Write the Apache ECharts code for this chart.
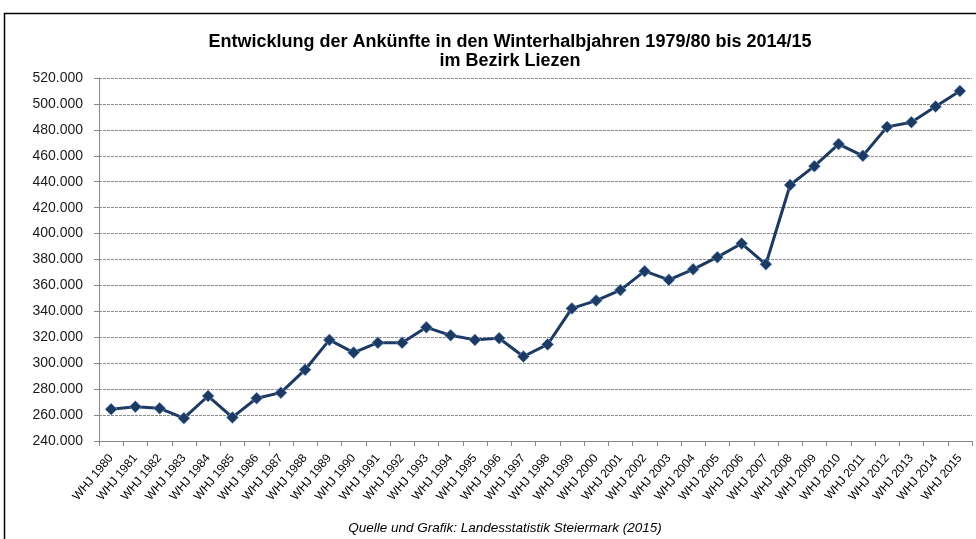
<!DOCTYPE html>
<html>
<head>
<meta charset="utf-8">
<script src="https://cdn.jsdelivr.net/npm/echarts@6/dist/echarts.min.js"></script>
<style>
  html, body { margin: 0; padding: 0; background: #fff; }
  #chart { width: 976px; height: 539px; }
</style>
</head>
<body>
<div id="chart"></div>
<script>
const years = ['WHJ 1980', 'WHJ 1981', 'WHJ 1982', 'WHJ 1983', 'WHJ 1984', 'WHJ 1985',
  'WHJ 1986', 'WHJ 1987', 'WHJ 1988', 'WHJ 1989', 'WHJ 1990', 'WHJ 1991', 'WHJ 1992',
  'WHJ 1993', 'WHJ 1994', 'WHJ 1995', 'WHJ 1996', 'WHJ 1997', 'WHJ 1998', 'WHJ 1999',
  'WHJ 2000', 'WHJ 2001', 'WHJ 2002', 'WHJ 2003', 'WHJ 2004', 'WHJ 2005', 'WHJ 2006',
  'WHJ 2007', 'WHJ 2008', 'WHJ 2009', 'WHJ 2010', 'WHJ 2011', 'WHJ 2012', 'WHJ 2013',
  'WHJ 2014', 'WHJ 2015'];

// Ankünfte je Winterhalbjahr
const arrivals = [264500, 266500, 265200, 257600, 274700, 258200,
  273000, 277300, 295000, 318000, 308200, 315800, 315800,
  327700, 321500, 318000, 319300, 305200, 314500, 342300,
  348300, 356400, 371000, 364300, 372400, 381800, 392300,
  376300, 437500, 452000, 469000, 460000, 482300, 485900,
  498000, 510000];

const yMin = 240000;
const yMax = 520000;
const yStep = 20000;

const titleText = 'Entwicklung der Ankünfte in den Winterhalbjahren 1979/80 bis 2014/15\nim Bezirk Liezen';
const sourceText = 'Quelle und Grafik: Landesstatistik Steiermark (2015)';

const chart = echarts.init(document.getElementById('chart'));

function fmt(v) {
  // 520000 -> 520.000
  return String(v).replace(/\B(?=(\d{3})+(?!\d))/g, '.');
}

const option = {
  backgroundColor: '#fff',
  animation: false,
  title: {
    text: titleText,
    left: 505,
    top: 28,
    textAlign: 'center',
    textStyle: {
      fontFamily: 'Liberation Sans',
      fontSize: 18,
      fontWeight: 'bold',
      color: '#000',
      lineHeight: 19
    }
  },
  graphic: [
    {
      type: 'rect',
      shape: { x: 4.5, y: 13.5, width: 990, height: 560 },
      style: { fill: 'none', stroke: '#000', lineWidth: 1.5 },
      silent: true
    },
    {
      type: 'text',
      x: 505,
      y: 521,
      silent: true,
      style: {
        text: sourceText,
        align: 'center',
        verticalAlign: 'top',
        fontFamily: 'Liberation Sans',
        fontStyle: 'italic',
        fontSize: 13.5,
        fill: '#000'
      }
    }
  ],
  grid: {
    left: 99,
    right: 4,
    top: 78,
    bottom: 98,
    containLabel: false
  },
  xAxis: {
    type: 'category',
    data: years,
    boundaryGap: true,
    axisLine: { lineStyle: { color: '#868686', width: 1 } },
    axisTick: { show: true, alignWithLabel: false, length: 5, lineStyle: { color: '#868686' } },
    axisLabel: {
      interval: 0,
      rotate: 50,
      margin: 15,
      fontFamily: 'Liberation Sans',
      fontSize: 12,
      color: '#000'
    },
    splitLine: { show: false }
  },
  yAxis: {
    type: 'value',
    min: yMin,
    max: yMax,
    interval: yStep,
    axisLine: { show: true, lineStyle: { color: '#868686', width: 1 } },
    axisTick: { show: true, length: 5, lineStyle: { color: '#868686' } },
    axisLabel: {
      formatter: fmt,
      margin: 16,
      fontFamily: 'Liberation Sans',
      fontSize: 14,
      color: '#1a1a1a'
    },
    splitLine: {
      show: true,
      lineStyle: { color: '#8c8c8c', type: [3, 1], width: 1 }
    }
  },
  series: [{
    type: 'line',
    data: arrivals,
    symbol: 'diamond',
    symbolSize: 12,
    lineStyle: { color: '#1d3a63', width: 3 },
    itemStyle: {
      color: '#1d3a63',
      borderColor: 'rgba(120,160,220,0.6)',
      borderWidth: 1
    }
  }]
};

chart.setOption(option);
</script>
</body>
</html>
